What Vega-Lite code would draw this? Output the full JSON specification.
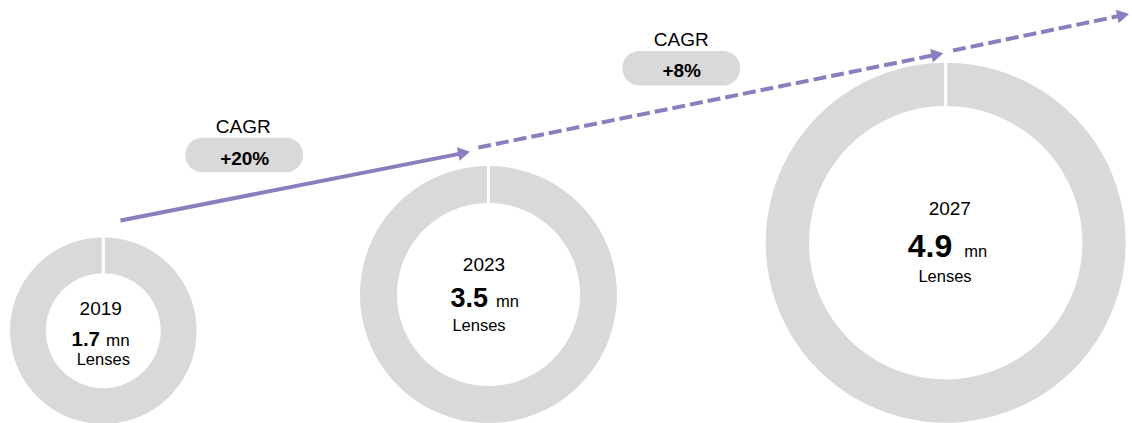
{
  "$schema": "https://vega.github.io/schema/vega-lite/v6.json",
  "width": 1132,
  "height": 423,
  "autosize": {"type": "fit", "contains": "padding"},
  "padding": 0,
  "background": "white",
  "config": {"view": {"stroke": null}, "text": {"font": "Liberation Sans", "color": "#000000"}},
  "datasets": {
    "market": [
      {"year": 2019, "value": 1.7, "unit": "mn", "item": "Lenses"},
      {"year": 2023, "value": 3.5, "unit": "mn", "item": "Lenses"},
      {"year": 2027, "value": 4.9, "unit": "mn", "item": "Lenses"}
    ],
    "growth": [
      {"year": 2019, "value": 1.7, "next_year": 2023, "next_value": 3.5, "cagr": "+20%", "phase": "actual"},
      {"year": 2023, "value": 3.5, "next_year": 2027, "next_value": 4.9, "cagr": "+8%", "phase": "forecast"}
    ]
  },
  "encoding": {
    "x": {"field": "year", "type": "quantitative", "axis": null,
      "scale": {"domain": [2019, 2023, 2027], "range": [103.3, 488.5, 945.7], "nice": false, "zero": false}},
    "y": {"field": "value", "type": "quantitative", "axis": null,
      "scale": {"domain": [1.7, 3.5, 4.9], "range": [330.7, 294.5, 242.7], "nice": false, "zero": false}}
  },
  "layer": [
    {"data": {"name": "market"}, "transform": [{"filter": "datum.year == 2019"}],
      "mark": {"type": "arc", "theta": 0, "theta2": 6.2831, "outerRadius": 93.3, "innerRadius": 57.5, "padAngle": 0.0274, "fill": "#d9d9d9"}},
    {"data": {"name": "market"}, "transform": [{"filter": "datum.year == 2023"}],
      "mark": {"type": "arc", "theta": 0, "theta2": 6.2831, "outerRadius": 128.5, "innerRadius": 91.5, "padAngle": 0.019, "fill": "#d9d9d9"}},
    {"data": {"name": "market"}, "transform": [{"filter": "datum.year == 2027"}],
      "mark": {"type": "arc", "theta": 0, "theta2": 6.2831, "outerRadius": 180, "innerRadius": 136.7, "padAngle": 0.0133, "fill": "#d9d9d9"}},

    {"data": {"name": "growth"}, "transform": [{"filter": "datum.year == 2019"}],
      "mark": {"type": "rule", "color": "#8c7dbf", "strokeWidth": 4, "xOffset": 17.2, "yOffset": -110.2, "x2Offset": -25.4, "y2Offset": -141.4},
      "encoding": {"x2": {"field": "next_year"}, "y2": {"field": "next_value"}}},
    {"data": {"name": "growth"}, "transform": [{"filter": "datum.year == 2023"}],
      "mark": {"type": "rule", "color": "#8c7dbf", "strokeWidth": 4, "strokeDash": [13, 5], "xOffset": -10.2, "yOffset": -147, "x2Offset": -9.3, "y2Offset": -188},
      "encoding": {"x2": {"field": "next_year"}, "y2": {"field": "next_value"}}},
    {"data": {"name": "market"}, "transform": [{"filter": "datum.year == 2027"}],
      "mark": {"type": "rule", "color": "#8c7dbf", "strokeWidth": 4, "strokeDash": [13, 5], "xOffset": 7.3, "yOffset": -192.2, "x2Offset": 176.4, "y2Offset": -227.3},
      "encoding": {"x2": {"field": "year"}, "y2": {"field": "value"}}},

    {"data": {"name": "market"}, "transform": [{"filter": "datum.year == 2023"}],
      "mark": {"type": "point", "shape": "M-2,-1.15L0,0L-2,1.15Z", "size": 144, "filled": true, "fill": "#8c7dbf", "strokeWidth": 0, "opacity": 1, "angle": 348.9, "xOffset": -18.5, "yOffset": -142.8}},
    {"data": {"name": "market"}, "transform": [{"filter": "datum.year == 2027"}],
      "mark": {"type": "point", "shape": "M-2,-1.15L0,0L-2,1.15Z", "size": 144, "filled": true, "fill": "#8c7dbf", "strokeWidth": 0, "opacity": 1, "angle": 348.5, "xOffset": -2.4, "yOffset": -189.4}},
    {"data": {"name": "market"}, "transform": [{"filter": "datum.year == 2027"}],
      "mark": {"type": "point", "shape": "M-2,-1.15L0,0L-2,1.15Z", "size": 144, "filled": true, "fill": "#8c7dbf", "strokeWidth": 0, "opacity": 1, "angle": 348.3, "xOffset": 183.3, "yOffset": -228.7}},

    {"data": {"name": "growth"}, "transform": [{"filter": "datum.year == 2019"}],
      "mark": {"type": "rule", "color": "#d9d9d9", "strokeWidth": 34.5, "strokeCap": "round", "xOffset": 99.15, "x2Offset": 182.65, "yOffset": -175.7},
      "encoding": {"x2": {"field": "year"}}},
    {"data": {"name": "growth"}, "transform": [{"filter": "datum.year == 2023"}],
      "mark": {"type": "rule", "color": "#d9d9d9", "strokeWidth": 34.5, "strokeCap": "round", "xOffset": 151.05, "x2Offset": 234.55, "yOffset": -226.2},
      "encoding": {"x2": {"field": "year"}}},
    {"data": {"name": "growth"}, "transform": [{"filter": "datum.year == 2019"}],
      "mark": {"type": "text", "fontSize": 19, "align": "center", "baseline": "alphabetic", "dx": 140, "dy": -197.4},
      "encoding": {"text": {"value": "CAGR"}}},
    {"data": {"name": "growth"}, "transform": [{"filter": "datum.year == 2023"}],
      "mark": {"type": "text", "fontSize": 19, "align": "center", "baseline": "alphabetic", "dx": 192.8, "dy": -248.5},
      "encoding": {"text": {"value": "CAGR"}}},
    {"data": {"name": "growth"}, "transform": [{"filter": "datum.year == 2019"}],
      "mark": {"type": "text", "fontSize": 19, "fontWeight": "bold", "align": "center", "baseline": "alphabetic", "dx": 141.4, "dy": -165.7},
      "encoding": {"text": {"field": "cagr", "type": "nominal"}}},
    {"data": {"name": "growth"}, "transform": [{"filter": "datum.year == 2023"}],
      "mark": {"type": "text", "fontSize": 19, "fontWeight": "bold", "align": "center", "baseline": "alphabetic", "dx": 193.2, "dy": -217.2},
      "encoding": {"text": {"field": "cagr", "type": "nominal"}}},

    {"data": {"name": "market"}, "transform": [{"filter": "datum.year == 2019"}],
      "mark": {"type": "text", "fontSize": 19, "align": "center", "baseline": "alphabetic", "dx": -2.6, "dy": -15.7},
      "encoding": {"text": {"field": "year", "type": "nominal"}}},
    {"data": {"name": "market"}, "transform": [{"filter": "datum.year == 2019"}],
      "mark": {"type": "text", "fontSize": 20.5, "fontWeight": "bold", "align": "right", "baseline": "alphabetic", "dx": -3.3, "dy": 15.3},
      "encoding": {"text": {"field": "value", "type": "quantitative", "format": ".1f"}}},
    {"data": {"name": "market"}, "transform": [{"filter": "datum.year == 2019"}],
      "mark": {"type": "text", "fontSize": 17, "align": "left", "baseline": "alphabetic", "dx": 2.7, "dy": 15.3},
      "encoding": {"text": {"field": "unit", "type": "nominal"}}},
    {"data": {"name": "market"}, "transform": [{"filter": "datum.year == 2019"}],
      "mark": {"type": "text", "fontSize": 16.5, "align": "center", "baseline": "alphabetic", "dx": 0, "dy": 34.3},
      "encoding": {"text": {"field": "item", "type": "nominal"}}},

    {"data": {"name": "market"}, "transform": [{"filter": "datum.year == 2023"}],
      "mark": {"type": "text", "fontSize": 19, "align": "center", "baseline": "alphabetic", "dx": -4.5, "dy": -23.5},
      "encoding": {"text": {"field": "year", "type": "nominal"}}},
    {"data": {"name": "market"}, "transform": [{"filter": "datum.year == 2023"}],
      "mark": {"type": "text", "fontSize": 27, "fontWeight": "bold", "align": "right", "baseline": "alphabetic", "dx": -0.5, "dy": 12.2},
      "encoding": {"text": {"field": "value", "type": "quantitative", "format": ".1f"}}},
    {"data": {"name": "market"}, "transform": [{"filter": "datum.year == 2023"}],
      "mark": {"type": "text", "fontSize": 16.5, "align": "left", "baseline": "alphabetic", "dx": 7.5, "dy": 12.2},
      "encoding": {"text": {"field": "unit", "type": "nominal"}}},
    {"data": {"name": "market"}, "transform": [{"filter": "datum.year == 2023"}],
      "mark": {"type": "text", "fontSize": 16.5, "align": "center", "baseline": "alphabetic", "dx": -9.5, "dy": 36.2},
      "encoding": {"text": {"field": "item", "type": "nominal"}}},

    {"data": {"name": "market"}, "transform": [{"filter": "datum.year == 2027"}],
      "mark": {"type": "text", "fontSize": 19, "align": "center", "baseline": "alphabetic", "dx": 4.1, "dy": -27.7},
      "encoding": {"text": {"field": "year", "type": "nominal"}}},
    {"data": {"name": "market"}, "transform": [{"filter": "datum.year == 2027"}],
      "mark": {"type": "text", "fontSize": 32, "fontWeight": "bold", "align": "right", "baseline": "alphabetic", "dx": 6.6, "dy": 14.6},
      "encoding": {"text": {"field": "value", "type": "quantitative", "format": ".1f"}}},
    {"data": {"name": "market"}, "transform": [{"filter": "datum.year == 2027"}],
      "mark": {"type": "text", "fontSize": 16.5, "align": "left", "baseline": "alphabetic", "dx": 18.6, "dy": 14.6},
      "encoding": {"text": {"field": "unit", "type": "nominal"}}},
    {"data": {"name": "market"}, "transform": [{"filter": "datum.year == 2027"}],
      "mark": {"type": "text", "fontSize": 16.5, "align": "center", "baseline": "alphabetic", "dx": -0.7, "dy": 39.6},
      "encoding": {"text": {"field": "item", "type": "nominal"}}}
  ]
}
